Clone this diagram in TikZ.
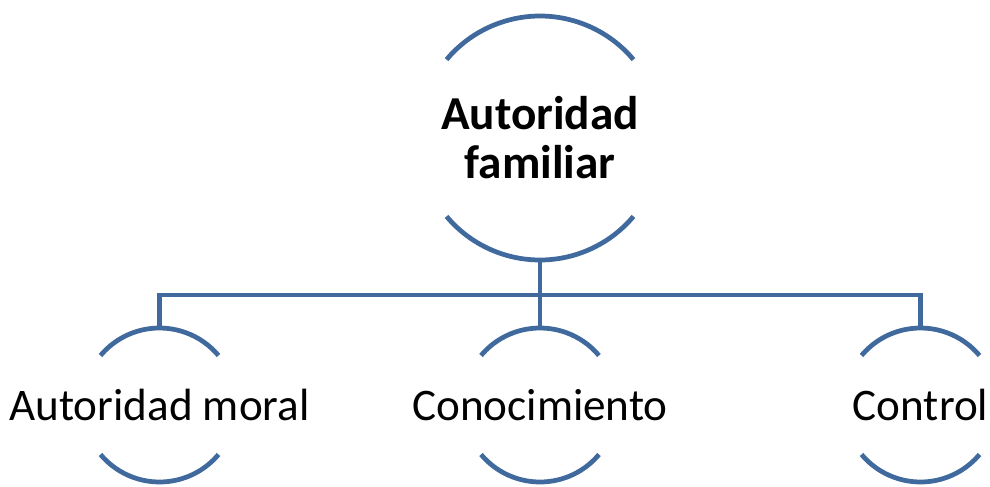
\documentclass[tikz,border=0pt]{standalone}
\usepackage{fontspec}
\setmainfont{Carlito}
\definecolor{ringblue}{RGB}{64,106,157}
\begin{document}
\begin{tikzpicture}[ringblue, line width=2.7pt]
  \useasboundingbox (0,0) rectangle (19.8,-9.72);

  \node[black, font=\bfseries\fontsize{26.9}{27.9}\selectfont, align=center] (A) at (10.8, -2.76) {Autoridad\\familiar};
  \node[black, font=\fontsize{25.7}{30}\selectfont] (M) at (3.19, -8.1) {Autoridad moral};
  \node[black, font=\fontsize{25.7}{30}\selectfont] (K) at (10.8, -8.1) {Conocimiento};
  \node[black, font=\fontsize{25.7}{30}\selectfont] (C) at (18.41, -8.1) {Control};

  \coordinate (A-bot) at (10.8, -5.2);
  \coordinate (M-top) at (3.19, -6.56);
  \coordinate (K-top) at (10.8, -6.56);
  \coordinate (C-top) at (18.41, -6.56);

  \draw (A.center) ++(40:2.44) arc[start angle=40, end angle=140, radius=2.44];
  \draw (A.center) ++(220:2.44) arc[start angle=220, end angle=320, radius=2.44];
  \draw (M.center) ++(40:1.54) arc[start angle=40, end angle=140, radius=1.54];
  \draw (M.center) ++(220:1.54) arc[start angle=220, end angle=320, radius=1.54];
  \draw (K.center) ++(40:1.54) arc[start angle=40, end angle=140, radius=1.54];
  \draw (K.center) ++(220:1.54) arc[start angle=220, end angle=320, radius=1.54];
  \draw (C.center) ++(40:1.54) arc[start angle=40, end angle=140, radius=1.54];
  \draw (C.center) ++(220:1.54) arc[start angle=220, end angle=320, radius=1.54];

  \draw (A-bot) -- ++(0, -0.7) -| (M-top);
  \draw (A-bot) -- ++(0, -0.7) -| (C-top);
  \draw (A-bot) -- (K-top);
\end{tikzpicture}
\end{document}
